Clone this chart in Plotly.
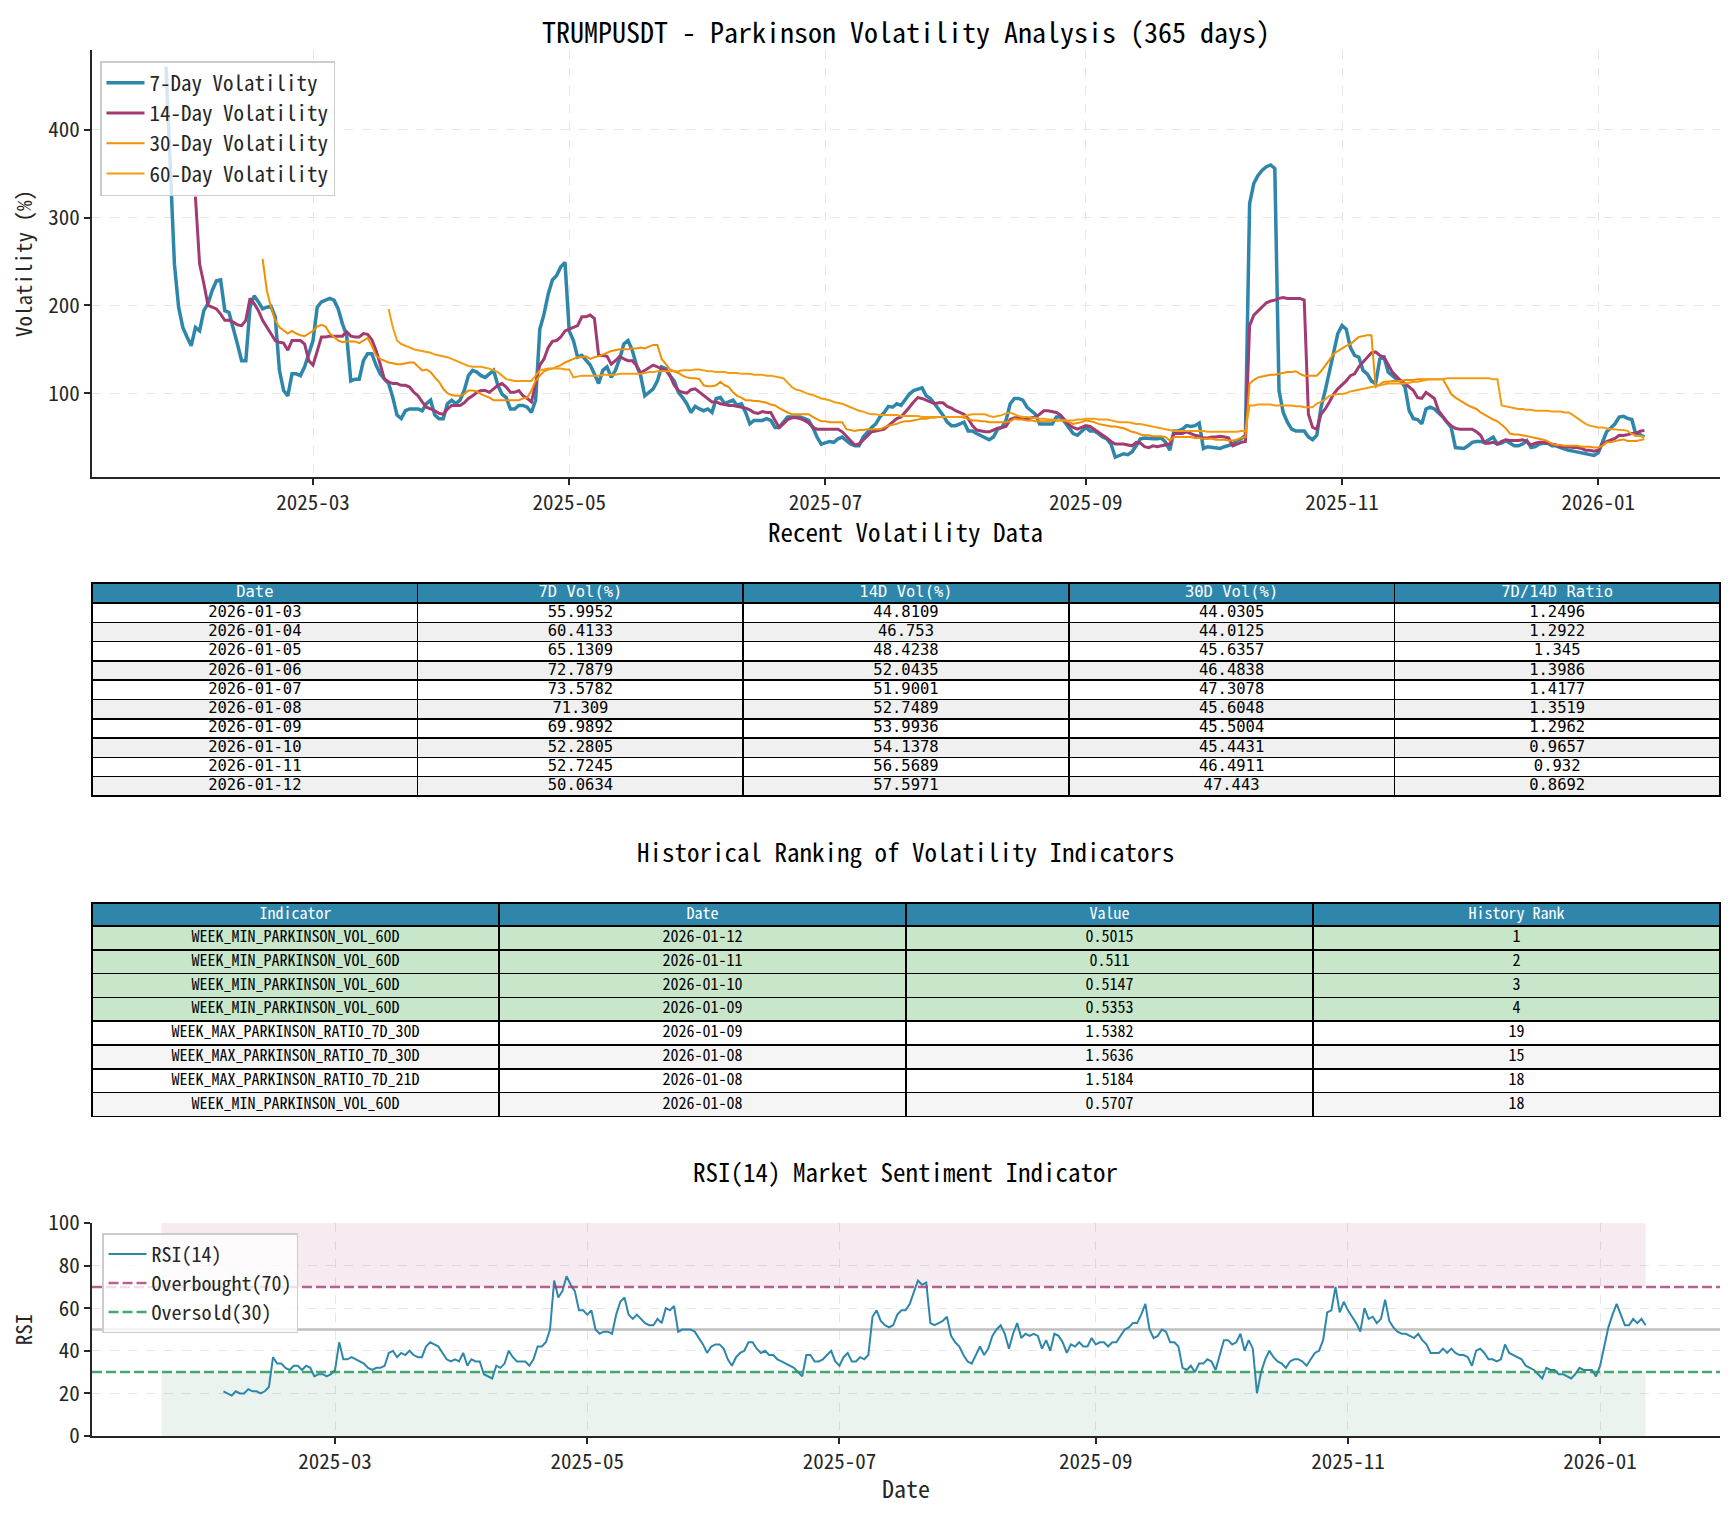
import pandas as pd
import plotly.graph_objects as go

# the page puts the figure 8px in from the corner, so work in target pixels and shift
PAGE_PAD = 8
W, H = 1734 - 2 * PAGE_PAD, 1513 - 2 * PAGE_PAD
FONT = "Noto Sans Mono CJK SC, Noto Sans CJK SC, DejaVu Sans Mono, monospace"
TABLE_FONT = "DejaVu Sans Mono, monospace"

BLUE = "#2E86AB"
PURPLE = "#A23B72"
ORANGE = "#F18F01"
ORANGE_60 = "#F39C12"

# Parkinson volatility (%), one value per day
vol_7d_start = "2025-01-25"
vol_7d = [
    472, 360, 247, 198, 175, 164, 154, 175, 171, 194,
    202, 217, 228, 229, 194, 192, 175, 156, 137, 137,
    198, 211, 204, 196, 198, 199, 187, 126, 103, 97,
    122, 122, 120, 130, 145, 160, 198, 204, 206, 208,
    206, 196, 179, 166, 114, 116, 116, 137, 145, 145,
    132, 122, 116, 111, 95, 75, 71, 80, 82, 82,
    82, 80, 88, 92, 75, 71, 71, 88, 92, 88,
    92, 103, 120, 126, 124, 120, 118, 122, 126, 109,
    99, 95, 82, 82, 86, 86, 84, 78, 92, 173,
    190, 213, 229, 234, 244, 249, 171, 160, 141, 143,
    137, 132, 122, 111, 126, 130, 118, 126, 139, 156,
    160, 149, 132,
    120, 97, 101, 105, 114, 130, 128, 120, 114, 101,
    95, 88, 78, 85, 82, 80, 82, 78, 94, 95,
    88, 90, 92, 86, 88, 78, 65, 69, 69, 69,
    71, 69, 61, 61, 67, 73, 73, 73, 73, 71,
    69, 61, 50, 42, 44, 45, 44, 48, 50, 46,
    42, 40, 40, 50, 56, 61, 65, 73, 78, 85,
    84, 88, 86, 92, 99, 103, 105, 106, 97, 94,
    88, 82, 75, 67, 63, 63, 65, 67, 57, 57,
    54, 52, 49, 47, 50, 59, 61, 69, 88, 94,
    94, 92, 84, 80, 76, 65, 65, 65, 65, 73,
    73, 67, 61, 54, 52, 56, 61, 57, 57, 54,
    50, 48, 42, 27, 29, 31, 30, 33, 40,
    48, 49, 48, 48, 48, 49, 44, 35, 57, 57,
    59, 63, 62, 63, 66, 37, 39, 38, 37, 37,
    39, 40, 42, 46, 48, 52, 316, 339, 348, 354,
    358, 360, 356, 103, 78, 67, 59, 57, 57, 57,
    50, 47, 52, 84, 103, 126, 149, 168, 177, 173,
    152, 143, 141, 126, 122, 114, 111, 139, 141, 124,
    120, 116, 114, 107, 80, 71, 70, 65, 82, 84,
    82, 78, 73, 67, 61, 38, 37, 37, 40, 44,
    45, 45, 44, 47, 50, 42, 43, 46, 43, 40,
    40, 42, 46, 38, 39, 42, 43, 43, 40, 40,
    38, 37, 35, 34, 33, 33, 32, 30, 29, 32,
    45,
    55.9952, 60.4133, 65.1309, 72.7879, 73.5782, 71.309, 69.9892, 52.2805, 52.7245, 50.0634,
]

vol_14d_start = "2025-02-01"
vol_14d = [
    324, 247, 225, 200, 198, 196, 190, 183, 183, 181,
    178, 177, 183, 208, 202, 194, 183, 175, 168, 160,
    158, 157, 149, 160, 160, 160, 156, 137, 132, 149,
    164, 164, 165, 165, 165, 165, 170, 165, 164, 164,
    168, 167, 161, 149, 133, 116, 113, 111, 111, 109,
    109, 107, 101, 97, 90, 84, 82, 80, 77, 76,
    82, 86, 86, 86, 89, 94, 97, 101, 103, 103,
    101, 105, 109, 111, 107, 101, 101, 103, 97, 94,
    90, 111, 132, 139, 152, 159, 160, 164, 171, 173,
    175, 177, 187, 187, 189, 185, 143, 143, 142, 133,
    137, 142, 139, 137, 137, 132,
    123, 126, 128, 132, 130, 128, 126, 120, 109, 103,
    101, 100, 104, 105, 101, 97, 94, 90, 90, 88,
    87, 86, 86, 85, 84, 83, 81, 78, 77, 79,
    78, 78, 69, 61, 65, 70, 72, 72, 71, 69,
    66, 61, 59, 59, 59, 59, 59, 59, 56, 51,
    46, 41, 42, 47, 52, 56, 57, 58, 59, 63,
    67, 71, 73, 78, 84, 90, 95, 94, 92, 90,
    88, 89, 89, 85, 83, 80, 78, 76, 71, 63,
    58, 57, 56, 56, 58, 60, 61, 62, 70, 72,
    72, 71, 71, 72, 73, 76, 80, 80, 79, 78,
    75, 69, 64, 61, 59, 61, 63, 62, 59, 56,
    52, 49, 45, 42, 42, 42, 41, 40, 44,
    43, 39, 38, 40, 39, 40, 41, 42, 54, 54,
    54, 56, 54, 52, 51, 49, 49, 50, 50, 51,
    50, 49, 40, 42, 44, 45, 177, 189, 194, 199,
    203, 205, 206, 208, 209, 208, 208, 208, 208, 206,
    76, 61, 59, 76, 82, 90, 99, 105, 109, 114,
    120, 122, 130, 135, 141, 146, 147, 143, 141, 132,
    124, 119, 114, 111, 107, 103, 95, 94, 101, 97,
    94, 80, 73, 67, 63, 60, 59, 59, 59, 59,
    56, 52, 43, 43, 44, 42, 45, 47, 46, 46,
    46, 47, 45, 41, 43, 44, 44, 43, 42, 41,
    39, 39, 39, 38, 38, 37, 35, 35, 34, 35,
    42,
    44.8109, 46.753, 48.4238, 52.0435, 51.9001, 52.7489, 53.9936, 54.1378, 56.5689, 57.5971,
]

vol_30d_start = "2025-02-17"
vol_30d = [
    253, 217, 198, 183, 175, 171, 168, 171, 168, 166,
    165, 168, 171, 176, 178, 176, 168, 164, 160, 158,
    159, 159, 159, 157, 160, 163, 154, 143, 139, 137,
    135, 134, 133, 133, 134, 135, 135, 130, 126, 127,
    124, 118, 113, 105, 100, 98, 97, 97, 99, 103,
    103, 102, 99, 97, 95, 92, 92, 92, 92, 92,
    92, 92, 94, 95, 103, 114, 120, 125, 127, 128,
    130, 132, 135, 137, 139, 141, 141, 142, 139, 141,
    142, 144, 146, 148, 149, 150, 150, 150, 151, 151,
    152, 151, 153, 155, 155, 139, 133, 127, 125, 123,
    120, 118, 117, 117, 116, 109, 108, 108, 109, 113,
    109, 107, 101, 97, 95, 92, 92, 91, 91, 90,
    89, 87, 86, 83, 80, 78, 76, 76, 76, 76,
    76, 73, 70, 68, 68, 67, 67, 67, 67, 59,
    58, 57, 58, 58, 59, 59, 59, 59, 61, 63,
    64, 65, 67, 68, 68, 69, 70, 71, 71, 72,
    72, 73, 73, 73, 73, 73, 73, 72, 71, 69,
    69, 68, 68, 67, 67, 67, 67, 67, 68, 71,
    70, 70, 69, 69, 68, 68, 68, 68, 69, 69,
    69, 69, 67, 65, 66, 67, 69, 68, 67, 65,
    64, 63, 62, 62, 61, 60, 58, 56, 55, 53,
    52, 52, 51, 51, 51, 50, 46, 50, 50, 50,
    50, 50, 49, 49, 48, 48, 48, 47, 47, 47,
    46, 46, 47, 49, 50, 111, 115, 118, 119, 120,
    121, 121, 122, 123, 124, 124, 125, 122, 120, 120,
    120, 120, 125, 131, 138, 145, 148, 152, 154, 156,
    160, 164, 165, 166, 166, 107, 110, 113, 113, 114,
    114, 114, 115, 115, 115, 116, 116, 116, 116, 116,
    116, 116, 108, 99, 95, 92, 88, 86, 84, 82,
    78, 75, 73, 70, 68, 64, 60, 54, 53, 53,
    52, 51, 50, 49, 48, 47, 45, 42, 41, 41,
    40, 40, 40, 40, 39, 39, 39, 38, 38, 40,
    44.0305, 44.0125, 45.6357, 46.4838, 47.3078, 45.6048, 45.5004, 45.4431, 46.4911, 47.443,
]

vol_60d_start = "2025-03-19"
vol_60d = [
    196, 175, 160, 156, 154, 152, 150, 149, 148, 147,
    146, 144, 143, 142, 141, 139, 137, 135, 133, 131,
    130, 130, 130, 129, 128, 126, 124, 120, 116, 115,
    114, 114, 114, 114, 114, 120, 126, 127, 128, 128,
    128, 128, 127, 127, 118, 119, 120, 120, 120, 120,
    120, 121, 121, 121, 121, 122, 122, 122, 122, 122,
    122, 123, 124, 124, 125, 125, 125, 125, 125, 125,
    126, 126, 126, 127, 127, 126, 125, 125, 124, 124,
    124, 123, 123, 123, 122, 122, 122, 121, 121, 121,
    120, 120, 119, 118, 117, 112, 107, 104, 103, 101,
    99, 98, 96, 94, 93, 92, 90, 89, 88, 86,
    84, 82, 80, 79, 77, 76, 76, 75, 75, 75,
    75, 75, 74, 74, 74, 74, 74, 73, 73, 73,
    73, 73, 73, 73, 73, 73, 73, 74, 75, 76,
    76, 76, 76, 74, 73, 74, 75, 77, 78, 76,
    74, 73, 73, 72, 72, 71, 71, 70, 70, 69,
    69, 69, 69, 69, 70, 70, 71, 71, 71, 70,
    70, 70, 69, 68, 67, 67, 67, 66, 65, 65,
    64, 63, 62, 61, 60, 59, 58, 57, 57, 57,
    57, 57, 57, 57, 57, 56, 56, 56, 56, 56,
    56, 56, 56, 57, 57, 86, 86, 87, 87, 87,
    87, 86, 86, 86, 86, 86, 85, 85, 84, 84,
    84, 88, 90, 93, 97, 98, 99, 99, 100, 102,
    103, 104, 105, 106, 107, 108, 109, 110, 111, 111,
    111, 111, 111, 112, 113, 113, 114, 115, 116, 116,
    116, 116, 117, 117, 117, 117, 117, 117, 117, 117,
    117, 117, 117, 116, 116, 86, 85, 84, 83, 82,
    82, 81, 81, 80, 80, 80, 80, 79, 79, 79,
    78, 78, 75, 72, 68, 65, 63, 62, 61, 61,
    60, 59, 59, 58, 58, 57.07, 53.53, 51.47, 51.10, 50.15,
]

# RSI(14), one value per day
rsi_start = "2025-02-02"
rsi_14 = [
    21, 20, 19, 21, 20, 20, 22, 21, 21, 20,
    21, 23, 37, 34, 34, 32, 31, 33, 33, 31,
    33, 32, 28, 29, 29, 28, 29, 31, 44, 36,
    36, 37, 36, 35, 34, 32, 31, 32, 32, 33,
    39, 40, 37, 39, 38, 40, 38, 37, 37, 42,
    44, 43, 42, 39, 36, 35, 36, 35, 39, 33,
    36, 35, 35, 29, 28, 27, 33, 32, 34, 40,
    37, 35, 35, 35, 33, 36, 42, 42, 44, 50,
    73, 65, 68, 75, 71, 68, 59, 59, 57, 59,
    50, 48, 49, 49, 48, 57, 63, 65, 57, 55,
    57, 55, 53, 52, 52, 55, 53, 60, 59, 61,
    49, 50, 50, 50, 49, 46, 43, 39, 42, 43,
    43, 41, 36, 33, 37, 39, 40, 44, 44, 41,
    39, 40, 38, 38, 36, 35, 34, 33, 32, 30,
    28, 38, 38, 35, 35, 36, 38, 40, 35, 33,
    37, 39, 35, 35, 37, 36, 38, 56, 59, 54,
    52, 51, 52, 57, 59, 59, 62, 68, 73, 71,
    72,
    53, 52, 53, 54, 56, 47, 44, 42, 38, 35,
    34, 38, 42, 38, 41, 47, 50, 52, 48, 41,
    48, 53, 46, 48, 47, 48, 47, 41, 45, 40,
    48, 47, 44, 39, 43, 42, 44, 42, 42, 46,
    43, 44, 44, 42, 44, 44, 47, 50, 51, 53,
    53, 57, 62, 50, 46, 47, 50, 49, 44, 44,
    42, 32, 31, 33, 30, 34, 34, 36, 35, 31,
    38, 45, 45, 43, 44, 48, 40, 45, 41, 20,
    30, 36, 40, 37, 35, 34, 32, 35, 36, 36,
    35, 33, 36, 39, 40, 45, 58, 59, 70, 58,
    63, 59, 56, 53, 49, 60, 55, 56, 53, 55,
    64, 54, 51, 49, 48, 48, 47, 46, 48, 45,
    43, 39, 39, 39, 41, 39, 41, 39, 38, 38,
    37, 33, 40, 41, 39, 36, 36, 35, 36, 43,
    39, 38, 37, 36, 33, 32, 31, 29, 27, 32,
    31, 31, 29, 29, 28, 27, 29, 32, 31, 31,
    31, 28, 33, 42, 51, 57, 62, 57, 52, 52,
    55, 53, 55, 52,
]
rsi_zone_dates = ["2025-01-18", "2026-01-12"]
overbought = 70
oversold = 30

# recent volatility table
recent_dates = ["2026-01-03", "2026-01-04", "2026-01-05", "2026-01-06", "2026-01-07",
                "2026-01-08", "2026-01-09", "2026-01-10", "2026-01-11", "2026-01-12"]
recent_7d = [55.9952, 60.4133, 65.1309, 72.7879, 73.5782, 71.309, 69.9892, 52.2805, 52.7245, 50.0634]
recent_14d = [44.8109, 46.753, 48.4238, 52.0435, 51.9001, 52.7489, 53.9936, 54.1378, 56.5689, 57.5971]
recent_30d = [44.0305, 44.0125, 45.6357, 46.4838, 47.3078, 45.6048, 45.5004, 45.4431, 46.4911, 47.443]
recent_ratio = [1.2496, 1.2922, 1.345, 1.3986, 1.4177, 1.3519, 1.2962, 0.9657, 0.932, 0.8692]
recent_header = ["Date", "7D Vol(%)", "14D Vol(%)", "30D Vol(%)", "7D/14D Ratio"]

# historical ranking table
rank_indicator = ["WEEK_MIN_PARKINSON_VOL_60D", "WEEK_MIN_PARKINSON_VOL_60D", "WEEK_MIN_PARKINSON_VOL_60D",
                  "WEEK_MIN_PARKINSON_VOL_60D", "WEEK_MAX_PARKINSON_RATIO_7D_30D", "WEEK_MAX_PARKINSON_RATIO_7D_30D",
                  "WEEK_MAX_PARKINSON_RATIO_7D_21D", "WEEK_MIN_PARKINSON_VOL_60D"]
rank_date = ["2026-01-12", "2026-01-11", "2026-01-10", "2026-01-09",
             "2026-01-09", "2026-01-08", "2026-01-08", "2026-01-08"]
rank_value = [0.5015, 0.511, 0.5147, 0.5353, 1.5382, 1.5636, 1.5184, 0.5707]
rank_history = [1, 2, 3, 4, 19, 15, 18, 18]
rank_header = ["Indicator", "Date", "Value", "History Rank"]


def dates(start, vals):
    return pd.date_range(start, periods=len(vals), freq="D")


def fx(x):
    return (x - PAGE_PAD) / W


def fy(y):
    return 1 - (y - PAGE_PAD) / H


fig = go.Figure()

# --- volatility lines
series = [
    (vol_7d_start, vol_7d, "7-Day Volatility", BLUE, 3.5),
    (vol_14d_start, vol_14d, "14-Day Volatility", PURPLE, 3),
    (vol_30d_start, vol_30d, "30-Day Volatility", ORANGE, 2),
    (vol_60d_start, vol_60d, "60-Day Volatility", ORANGE_60, 2),
]
for start, vals, name, color, width in series:
    fig.add_trace(go.Scatter(x=dates(start, vals), y=vals, name=name, mode="lines",
                             line=dict(color=color, width=width), xaxis="x", yaxis="y"))

# --- RSI zones and reference lines
zone = dict(mode="lines", line=dict(width=0), showlegend=False, hoverinfo="skip", xaxis="x2", yaxis="y2")
fig.add_trace(go.Scatter(x=rsi_zone_dates, y=[100, 100], **zone))
fig.add_trace(go.Scatter(x=rsi_zone_dates, y=[overbought] * 2, fill="tonexty",
                         fillcolor="rgba(162,59,114,0.1)", **zone))
fig.add_trace(go.Scatter(x=rsi_zone_dates, y=[oversold] * 2, **zone))
fig.add_trace(go.Scatter(x=rsi_zone_dates, y=[0, 0], fill="tonexty",
                         fillcolor="rgba(46,139,87,0.1)", **zone))

rsi_range = ["2025-01-01 05:00", "2026-01-30"]
fig.add_trace(go.Scatter(x=dates(rsi_start, rsi_14), y=rsi_14, name="RSI(14)", mode="lines",
                         line=dict(color=BLUE, width=2), xaxis="x2", yaxis="y2", legend="legend2"))
fig.add_trace(go.Scatter(x=rsi_range, y=[overbought] * 2, name="Overbought(70)", mode="lines",
                         line=dict(color="rgba(162,59,114,0.8)", width=2.5, dash="10px,4px"),
                         xaxis="x2", yaxis="y2", legend="legend2"))
fig.add_trace(go.Scatter(x=rsi_range, y=[oversold] * 2, name="Oversold(30)", mode="lines",
                         line=dict(color="rgba(40,150,85,0.85)", width=2.5, dash="10px,4px"),
                         xaxis="x2", yaxis="y2", legend="legend2"))
fig.add_shape(type="line", xref="x2 domain", yref="y2", x0=0, x1=1, y0=50, y1=50,
              line=dict(color="rgba(128,128,128,0.5)", width=2.5), layer="below")


# --- tables: one layer for fills/borders, one text layer nudged up to centre the text
def add_table(top, header_h, row_h, header, columns, row_colors, font, size, text_shift):
    n_rows = len(columns[0])
    bottom = top + header_h + row_h * n_rows + 2
    grid = dict(color="black", width=1.5)
    clear = dict(color="rgba(0,0,0,0)", width=0)
    fig.add_trace(go.Table(
        domain=dict(x=[fx(92), fx(1720)], y=[fy(bottom), fy(top)]),
        header=dict(values=[""] * len(header), fill_color=BLUE, line=grid, height=header_h),
        cells=dict(values=[[""] * n_rows for _ in columns], fill_color=[row_colors] * len(columns),
                   line=grid, height=row_h),
    ))
    fig.add_trace(go.Table(
        domain=dict(x=[fx(92), fx(1720)], y=[fy(bottom - text_shift), fy(top - text_shift)]),
        header=dict(values=header, fill_color="rgba(0,0,0,0)", line=clear, height=header_h,
                    align="center", font=dict(family=font, size=size, color="white")),
        cells=dict(values=columns, fill_color="rgba(0,0,0,0)", line=clear, height=row_h,
                   align="center", font=dict(family=font, size=size, color="black")),
    ))


row_bg = ["white" if i % 2 == 0 else "#f0f0f0" for i in range(len(recent_dates))]
add_table(583, 20, 19.3, recent_header,
          [recent_dates, [str(v) for v in recent_7d], [str(v) for v in recent_14d],
           [str(v) for v in recent_30d], [str(v) for v in recent_ratio]],
          row_bg, TABLE_FONT, 15.5, 6)

rank_bg = ["#c8e6c9"] * 4 + ["white", "#f5f5f5", "white", "#f5f5f5"]
add_table(903, 23, 23.8, rank_header,
          [rank_indicator, rank_date, [str(v) for v in rank_value], [str(v) for v in rank_history]],
          rank_bg, FONT, 16, 4)

axis_common = dict(showline=True, linecolor="#262626", linewidth=2, mirror=False,
                   ticks="outside", ticklen=6, tickwidth=1.5, tickcolor="#262626",
                   showgrid=True, gridcolor="#e6e6e6", griddash="dash", gridwidth=1,
                   zeroline=False, automargin=False,
                   tickfont=dict(family=FONT, size=21, color="#262626"))

fig.update_layout(
    width=W, height=H,
    margin=dict(l=0, r=0, t=0, b=0),
    paper_bgcolor="white", plot_bgcolor="white",
    font=dict(family=FONT, color="#262626"),
    xaxis=dict(axis_common, domain=[fx(92), fx(1720)], anchor="y",
               range=["2025-01-07 09:00", "2026-01-30"], type="date",
               tick0="2025-01-01", dtick="M2", tickformat="%Y-%m"),
    yaxis=dict(axis_common, domain=[fy(477), fy(50)], anchor="x",
               range=[4.5, 491], tickvals=[100, 200, 300, 400],
               title=dict(text="Volatility (%)", font=dict(family=FONT, size=21), standoff=14)),
    xaxis2=dict(axis_common, domain=[fx(92), fx(1720)], anchor="y2",
                range=rsi_range, type="date",
                tick0="2025-01-01", dtick="M2", tickformat="%Y-%m",
                title=dict(text="Date", font=dict(family=FONT, size=24), standoff=8)),
    yaxis2=dict(axis_common, domain=[fy(1436), fy(1223)], anchor="x2",
                range=[0, 100], tickvals=[0, 20, 40, 60, 80, 100],
                title=dict(text="RSI", font=dict(family=FONT, size=21), standoff=12)),
    legend=dict(x=fx(100), y=fy(61), xanchor="left", yanchor="top", traceorder="normal",
                bgcolor="rgba(255,255,255,0.8)", bordercolor="#cccccc", borderwidth=1.5,
                font=dict(family=FONT, size=21, color="#262626"), tracegroupgap=0, itemwidth=38),
    legend2=dict(x=fx(102), y=fy(1233), xanchor="left", yanchor="top", traceorder="normal",
                 bgcolor="rgba(255,255,255,0.8)", bordercolor="#cccccc", borderwidth=1.5,
                 font=dict(family=FONT, size=20, color="#262626"), tracegroupgap=0, itemwidth=38),
    showlegend=True,
)

# main title hangs from the top edge so it is not clipped
fig.add_annotation(text="TRUMPUSDT - Parkinson Volatility Analysis (365 days)",
                   xref="paper", yref="paper", x=fx(906), y=fy(PAGE_PAD + 0.5),
                   xanchor="center", yanchor="top", showarrow=False,
                   font=dict(family=FONT, size=28, color="black"))

section_titles = [
    ("Recent Volatility Data", 531, 25),
    ("Historical Ranking of Volatility Indicators", 851, 25),
    ("RSI(14) Market Sentiment Indicator", 1171, 25),
]
for text, ypix, size in section_titles:
    fig.add_annotation(text=text, xref="paper", yref="paper", x=fx(906), y=fy(ypix),
                       xanchor="center", yanchor="middle", showarrow=False,
                       font=dict(family=FONT, size=size, color="black"))

fig.write_html("out.html")
